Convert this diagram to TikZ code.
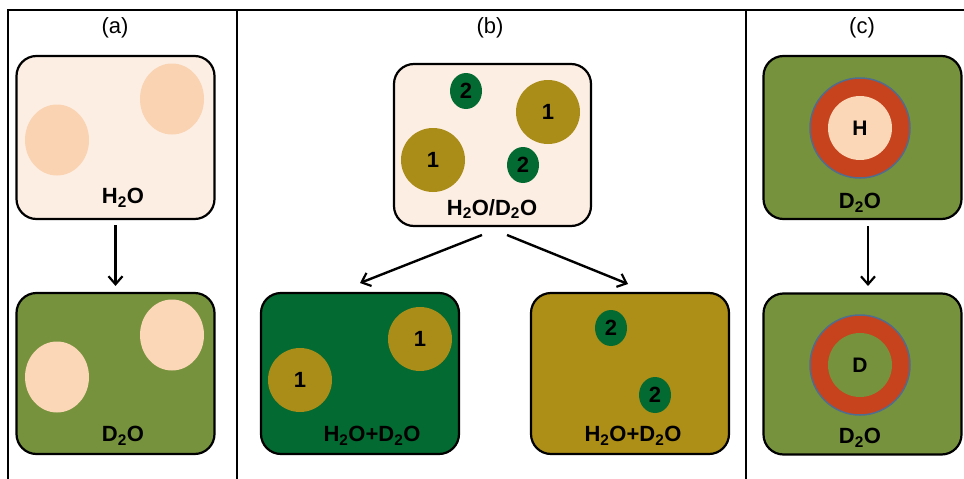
\documentclass[tikz,border=0pt]{standalone}
\usepackage{fontspec}
\setmainfont{Liberation Sans}
\usetikzlibrary{shapes.geometric,arrows.meta}

\definecolor{peach}{HTML}{FDEEE3}
\definecolor{peachdot}{HTML}{F9D3B2}
\definecolor{peachlight}{HTML}{FBD6B7}
\definecolor{olive}{HTML}{76923C}
\definecolor{darkgreen}{HTML}{036A31}
\definecolor{gold}{HTML}{AA8C19}
\definecolor{goldbox}{HTML}{AD8E17}
\definecolor{ring}{HTML}{C6431D}
\definecolor{ringedge}{HTML}{506C8E}

\begin{document}
\begin{tikzpicture}[x=1pt,y=-1pt,
  box/.style={draw=black, line width=2.2pt, rounded corners=20pt,
    minimum width=198pt, minimum height=161pt, inner sep=0pt},
  blob/.style={ellipse, minimum width=64pt, minimum height=71pt, inner sep=0pt},
  bigdot/.style={circle, fill=gold, minimum size=64pt, inner sep=0pt,
    font=\fontsize{22}{24}\selectfont\bfseries},
  smalldot/.style={ellipse, fill=darkgreen, minimum width=32pt, minimum height=36pt,
    inner sep=0pt, font=\fontsize{22}{24}\selectfont\bfseries},
  shell/.style={circle, fill=ring, draw=ringedge, line width=1.5pt,
    minimum size=100pt, inner sep=0pt},
  core/.style={circle, minimum size=64pt, inner sep=0pt,
    font=\fontsize{21}{24}\selectfont\bfseries},
  lbl/.style={inner sep=0pt, font=\fontsize{22}{24}\selectfont\bfseries},
  panel/.style={inner sep=0pt, font=\fontsize{22}{24}\selectfont},
  frame/.style={line width=1.8pt},
  flow/.style={line width=2.4pt, -{Straight Barb[length=8pt,width=14pt,line width=2.2pt]}}
]
\useasboundingbox (0,0) rectangle (964,479);

% panel frame
\draw[frame] (7,10) -- (964,10);
\draw[frame] (8,10) -- (8,479);
\draw[frame] (237,10) -- (237,479);
\draw[frame] (746,10) -- (746,479);

% panel titles
\node[panel] (ta) at (115,28) {(a)};
\node[panel] (tb) at (490,28) {(b)};
\node[panel] (tc) at (862,28) {(c)};

% ---- (a) ----
\node[box, fill=peach, minimum height=163pt] (a1) at (115.5,137.5) {};
\node[blob, fill=peachdot] (a1l) at (57,140) {};
\node[blob, fill=peachdot] (a1r) at (172,99) {};
\node[lbl] (a1t) at (123,198) {H\textsubscript{2}O};

\node[box, fill=olive] (a2) at (115.5,373.5) {};
\node[blob, fill=peachlight] (a2l) at (57,377) {};
\node[blob, fill=peachlight] (a2r) at (172,335) {};
\node[lbl] (a2t) at (123,436) {D\textsubscript{2}O};

\draw[flow, shorten <=5pt, shorten >=6pt] (a1.south) -- (a2.north);

% ---- (b) ----
\node[box, fill=peach, minimum width=197pt, minimum height=162pt] (b0) at (492.5,145) {};
\node[smalldot] (b0s1) at (466,91) {2};
\node[bigdot] (b0g1) at (548,112) {1};
\node[bigdot] (b0g2) at (433,160) {1};
\node[smalldot] (b0s2) at (523,165) {2};
\node[lbl] (b0t) at (492,209) {H\textsubscript{2}O/D\textsubscript{2}O};

\node[box, fill=darkgreen] (b1) at (360,373.5) {};
\node[bigdot] (b1g1) at (420,339) {1};
\node[bigdot] (b1g2) at (300,380) {1};
\node[lbl] (b1t) at (372,436) {H\textsubscript{2}O+D\textsubscript{2}O};

\node[box, fill=goldbox] (b2) at (630,373.5) {};
\node[smalldot] (b2s1) at (611,328) {2};
\node[smalldot] (b2s2) at (655,395) {2};
\node[lbl] (b2t) at (633,436) {H\textsubscript{2}O+D\textsubscript{2}O};

\coordinate (bl0) at (482,235);
\coordinate (bl1) at (360,283);
\coordinate (br0) at (507,235);
\coordinate (br1) at (628,284);
\draw[flow] (bl0) -- (bl1);
\draw[flow] (br0) -- (br1);

% ---- (c) ----
\node[box, fill=olive, minimum height=163pt] (c1) at (862.5,137.5) {};
\node[shell] (c1r) at (860,128) {};
\node[core, fill=peachlight] (c1c) at (c1r) {H};
\node[lbl] (c1t) at (860,203) {D\textsubscript{2}O};

\node[box, fill=olive] (c2) at (862.5,374) {};
\node[shell] (c2r) at (860,365) {};
\node[core, fill=olive] (c2c) at (c2r) {D};
\node[lbl] (c2t) at (860,438) {D\textsubscript{2}O};

\coordinate (cd0) at (868,226);
\coordinate (cd1) at (868,286);
\draw[flow] (cd0) -- (cd1);
\end{tikzpicture}
\end{document}
